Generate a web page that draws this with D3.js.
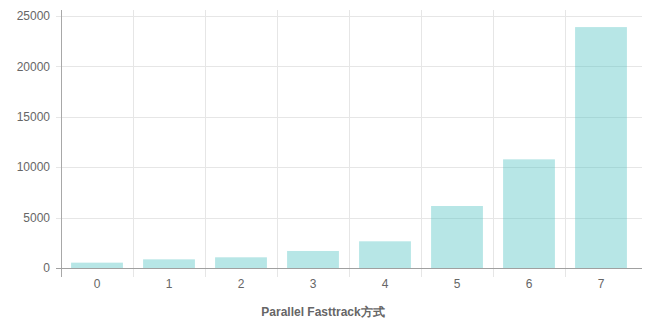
<!DOCTYPE html>
<html>
<head>
<meta charset="utf-8">
<script src="https://cdn.jsdelivr.net/npm/d3@7"></script>
<style>
  body { margin: 0; background: #fff; }
  text { font-family: "Liberation Sans", Arial, Helvetica, sans-serif; }
</style>
</head>
<body>
<div class="chart"></div>
<script>
// data
const categories = ["0", "1", "2", "3", "4", "5", "6", "7"];
const counts = [530, 860, 1060, 1690, 2650, 6150, 10780, 23900];
const yTicks = [0, 5000, 10000, 15000, 20000, 25000];
const xTitle = "Parallel Fasttrack方式";

const W = 649, H = 322;
const margin = { top: 16, right: 12, bottom: 54, left: 61 };
const width = W - margin.left - margin.right;
const height = H - margin.top - margin.bottom;
const plotW = 576; // category bands stop a bit short of the grid end

const svg = d3.select(".chart")
    .append("svg")
    .attr("width", W)
    .attr("height", H);

const g = svg.append("g")
    .attr("transform", `translate(${margin.left},${margin.top})`);

const x = d3.scaleBand()
    .domain(categories)
    .range([0, plotW]);

const y = d3.scaleLinear()
    .domain([0, 25000])
    .range([height, 0]);

// horizontal grid lines (with small tick outside left)
g.selectAll(".hgrid")
    .data(yTicks)
    .enter()
    .append("line")
    .attr("class", "hgrid")
    .attr("x1", -5)
    .attr("x2", plotW + 5)
    .attr("y1", d => Math.round(y(d)) + 0.5)
    .attr("y2", d => Math.round(y(d)) + 0.5)
    .attr("stroke", d => d === 0 ? "#a0a0a0" : "#e6e6e6")
    .attr("stroke-width", 1);

// vertical grid lines between categories
const xEdges = categories.map(c => x(c));
g.selectAll(".vgrid")
    .data(xEdges)
    .enter()
    .append("line")
    .attr("class", "vgrid")
    .attr("x1", d => Math.round(d) + 0.5)
    .attr("x2", d => Math.round(d) + 0.5)
    .attr("y1", -6)
    .attr("y2", height + 9)
    .attr("stroke", (d, i) => i === 0 ? "#a8a8a8" : "#e6e6e6")
    .attr("stroke-width", 1);

// bars
const barW = x.bandwidth() * 0.72;
g.selectAll(".bar")
    .data(counts)
    .enter()
    .append("rect")
    .attr("class", "bar")
    .attr("x", (d, i) => x(categories[i]) + (x.bandwidth() - barW) / 2)
    .attr("y", d => y(d))
    .attr("width", barW)
    .attr("height", d => height - y(d))
    .attr("fill", "rgba(75,192,192,0.4)");

// redraw zero line over bars
g.append("line")
    .attr("x1", 0)
    .attr("x2", plotW + 5)
    .attr("y1", Math.round(y(0)) + 0.5)
    .attr("y2", Math.round(y(0)) + 0.5)
    .attr("stroke", "#a0a0a0");

// y tick labels
g.selectAll(".ylab")
    .data(yTicks)
    .enter()
    .append("text")
    .attr("class", "ylab")
    .attr("x", -11)
    .attr("y", d => y(d))
    .attr("dy", "0.35em")
    .attr("text-anchor", "end")
    .attr("font-size", 12)
    .attr("fill", "#666")
    .text(d => d);

// x tick labels
g.selectAll(".xlab")
    .data(categories)
    .enter()
    .append("text")
    .attr("class", "xlab")
    .attr("x", d => x(d) + x.bandwidth() / 2)
    .attr("y", height + 16)
    .attr("dy", "0.35em")
    .attr("text-anchor", "middle")
    .attr("font-size", 12)
    .attr("fill", "#666")
    .text(d => d);

// axis title
svg.append("text")
    .attr("x", 323)
    .attr("y", 312)
    .attr("dy", "0.35em")
    .attr("text-anchor", "middle")
    .attr("font-size", 12)
    .attr("font-weight", "bold")
    .attr("fill", "#666")
    .text(xTitle);
</script>
</body>
</html>
